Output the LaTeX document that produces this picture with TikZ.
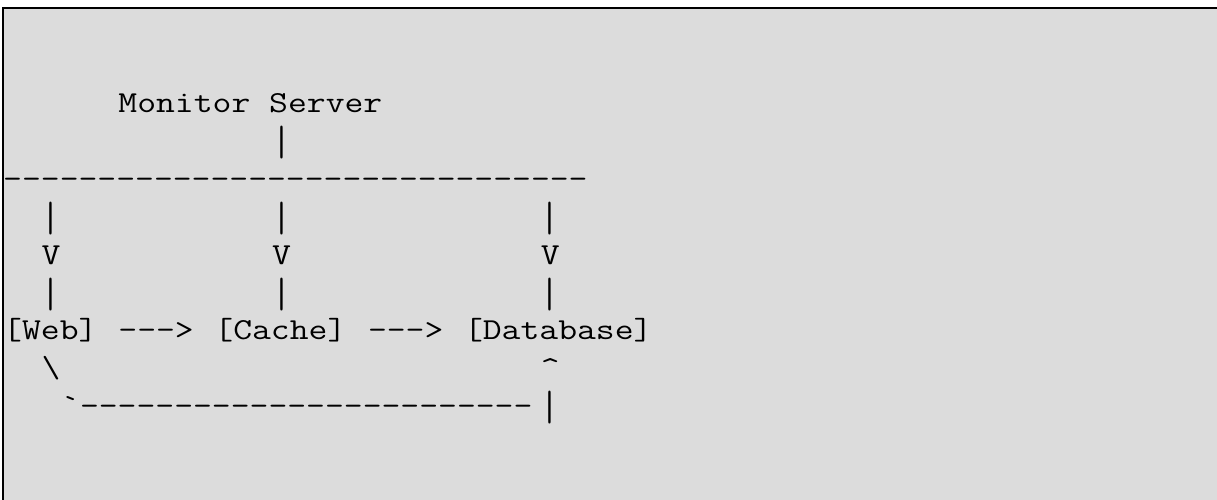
\documentclass[tikz,border=0pt]{standalone}
\usepackage{tikz}
\usepackage{graphicx}

\definecolor{panelgray}{RGB}{220,220,220}
\newcommand{\tallbar}{\raisebox{-5.1pt}{\scalebox{1}[1.39]{\textbar}}}

\begin{document}
\begin{tikzpicture}[x=1pt, y=-1pt]
    % Panel
    \useasboundingbox (0,0) rectangle (1217,500);
    \fill[white] (0,0) rectangle (1217,500);
    \fill[panelgray] (2.8,7.8) rectangle (1217,500);
    \draw[line width=2.5pt] (2.8,500) -- (2.8,7.8) -- (1217,7.8);

    \begin{scope}[shift={(3,113)}, x=16pt, y=-37.8pt, xscale=1.2,
        every node/.style={transform shape, anchor=base west, inner sep=0pt, text=black,
            font=\ttfamily\fontsize{30.5}{30.5}\selectfont}]
        % Monitor
        \node (monitor) at (6,0) {Monitor Server};
        \node (mbar) at (14,1) {\tallbar};

        % Bus
        \node (bus) at (0,2) {-------------------------------};

        % Drops
        \node (wtop) at (2,3) {\tallbar};
        \node (wv)   at (2,4) {V};
        \node (wbot) at (2,5) {\tallbar};
        \node (ctop) at (14,3) {\tallbar};
        \node (cv)   at (14,4) {V};
        \node (cbot) at (14,5) {\tallbar};
        \node (dtop) at (28,3) {\tallbar};
        \node (dv)   at (28,4) {V};
        \node (dbot) at (28,5) {\tallbar};

        % Tiers
        \node (web)   at (0,6)  {[Web]};
        \node (wc)    at (6,6)  {--->};
        \node (cache) at (11,6) {[Cache]};
        \node (cd)    at (19,6) {--->};
        \node (db)    at (24,6) {[Database]};

        % Return path
        \node (back) at (2,7)  {\textbackslash};
        \node (up)   at (28,7) {\textasciicircum};
        \node (tick) at (3,8)  {\textasciigrave};
        \node (ret)  at (4,8)  {------------------------};
        \node (rbar) at (28,8) {\tallbar};
    \end{scope}
\end{tikzpicture}
\end{document}
